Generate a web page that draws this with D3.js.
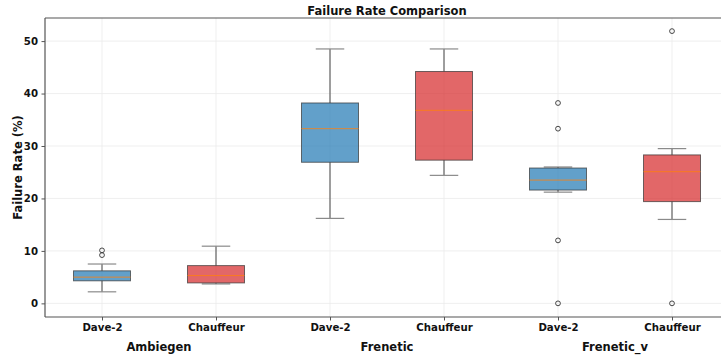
<!DOCTYPE html>
<html>
<head>
<meta charset="utf-8">
<script src="https://cdn.jsdelivr.net/npm/d3@7"></script>
<style>
  body { margin: 0; background: #fff; }
  svg { display: block; font-family: "DejaVu Sans", sans-serif; }
</style>
</head>
<body>
<svg width="721" height="356"></svg>
<script>
// boxes: [whiskerLow, q1, median, q3, whiskerHigh]
var groups = ["Ambiegen", "Frenetic", "Frenetic_v"];
var models = ["Dave-2", "Chauffeur"];
var boxStats = [
  [2.2, 4.3, 5.0, 6.2, 7.5],
  [3.7, 3.9, 5.3, 7.2, 10.9],
  [16.2, 26.9, 33.3, 38.2, 48.5],
  [24.4, 27.3, 36.8, 44.2, 48.5],
  [21.2, 21.6, 23.5, 25.8, 26.0],
  [16.0, 19.4, 25.1, 28.3, 29.5]
];
var outliers = [
  [9.2, 10.1],
  [],
  [],
  [],
  [0, 12.0, 33.3, 38.2],
  [0, 51.9]
];
var yTicks = [0, 10, 20, 30, 40, 50];
var colors = ["#1f77b4", "#d62728"];

var svg = d3.select("svg"),
    margin = {top: 18, left: 45},
    plotW = 684, plotH = 299;

var g = svg.append("g").attr("transform", "translate(" + margin.left + "," + margin.top + ")");

var x = d3.scaleLinear().domain([0.5, 6.5]).range([0, plotW]);
var y = d3.scaleLinear().domain([-2.6, 54.4]).range([plotH, 0]);

var data = boxStats.map(function(s, i) {
  return {pos: i + 1, stats: s, out: outliers[i], color: colors[i % 2], label: models[i % 2]};
});

// grid
g.append("g").selectAll("line").data(yTicks).enter().append("line")
  .attr("x1", 0).attr("x2", plotW + 20)
  .attr("y1", function(d) { return y(d); }).attr("y2", function(d) { return y(d); })
  .attr("stroke", "#ebebeb").attr("stroke-width", 0.8);
g.append("g").selectAll("line").data(data).enter().append("line")
  .attr("x1", function(d) { return x(d.pos); }).attr("x2", function(d) { return x(d.pos); })
  .attr("y1", 0).attr("y2", plotH)
  .attr("stroke", "#ebebeb").attr("stroke-width", 0.8);

var bw = x(1.25) - x(0.75);

var box = g.append("g").selectAll("g").data(data).enter().append("g");

// whiskers
box.append("line")
  .attr("x1", function(d) { return x(d.pos); }).attr("x2", function(d) { return x(d.pos); })
  .attr("y1", function(d) { return y(d.stats[0]); }).attr("y2", function(d) { return y(d.stats[1]); })
  .attr("stroke", "#444").attr("stroke-width", 1);
box.append("line")
  .attr("x1", function(d) { return x(d.pos); }).attr("x2", function(d) { return x(d.pos); })
  .attr("y1", function(d) { return y(d.stats[3]); }).attr("y2", function(d) { return y(d.stats[4]); })
  .attr("stroke", "#444").attr("stroke-width", 1);
// caps
[0, 4].forEach(function(k) {
  box.append("line")
    .attr("x1", function(d) { return x(d.pos) - bw / 4; }).attr("x2", function(d) { return x(d.pos) + bw / 4; })
    .attr("y1", function(d) { return y(d.stats[k]); }).attr("y2", function(d) { return y(d.stats[k]); })
    .attr("stroke", "#8a8a8a").attr("stroke-width", 1.2);
});

box.append("rect")
  .attr("x", function(d) { return x(d.pos) - bw / 2; })
  .attr("width", bw)
  .attr("y", function(d) { return y(d.stats[3]); })
  .attr("height", function(d) { return y(d.stats[1]) - y(d.stats[3]); })
  .attr("fill", function(d) { return d.color; })
  .attr("fill-opacity", 0.7)
  .attr("stroke", "#333").attr("stroke-opacity", 0.7).attr("stroke-width", 1);

box.append("line")
  .attr("x1", function(d) { return x(d.pos) - bw / 2; }).attr("x2", function(d) { return x(d.pos) + bw / 2; })
  .attr("y1", function(d) { return y(d.stats[2]); }).attr("y2", function(d) { return y(d.stats[2]); })
  .attr("stroke", "#ff7f0e").attr("stroke-opacity", 0.8).attr("stroke-width", 1);

box.selectAll("circle").data(function(d) { return d.out.map(function(v) { return {pos: d.pos, v: v}; }); })
  .enter().append("circle")
  .attr("cx", function(d) { return x(d.pos); })
  .attr("cy", function(d) { return y(d.v); })
  .attr("r", 2.4)
  .attr("fill", "none").attr("stroke", "#333").attr("stroke-width", 0.9);

// axes
var yAxis = g.append("g")
  .call(d3.axisLeft(y).tickValues(yTicks).tickSize(3.5).tickPadding(3.5));
var xAxis = g.append("g").attr("transform", "translate(0," + plotH + ")")
  .call(d3.axisBottom(x).tickValues(data.map(function(d) { return d.pos; }))
    .tickFormat(function(d, i) { return data[i].label; }).tickSize(3.5).tickPadding(3.5));
[yAxis, xAxis].forEach(function(a) {
  a.select(".domain").remove();
  a.selectAll("line").attr("stroke", "#555");
  a.selectAll("text").attr("font-size", 10.2).attr("font-weight", "bold")
    .attr("font-family", "DejaVu Sans").attr("fill", "#111");
});

// spines
g.append("line").attr("x1", 0).attr("x2", 0).attr("y1", 0).attr("y2", plotH).attr("stroke", "#555").attr("stroke-width", 1.2);
g.append("line").attr("x1", 0).attr("x2", plotW).attr("y1", plotH).attr("y2", plotH).attr("stroke", "#555").attr("stroke-width", 1.2);
g.append("line").attr("x1", 0).attr("x2", plotW).attr("y1", 0).attr("y2", 0).attr("stroke", "#555").attr("stroke-width", 1.2);

// group labels
g.append("g").selectAll("text").data(groups).enter().append("text")
  .attr("x", function(d, i) { return x(2 * i + 1.5); })
  .attr("y", plotH + 34)
  .attr("text-anchor", "middle")
  .attr("font-size", 11.5).attr("font-weight", "bold").attr("fill", "#111")
  .text(function(d) { return d; });

svg.append("text")
  .attr("x", margin.left + x(3.5)).attr("y", 14.5)
  .attr("text-anchor", "middle")
  .attr("font-size", 11.5).attr("font-weight", "bold").attr("fill", "#111")
  .text("Failure Rate Comparison");

svg.append("text")
  .attr("transform", "translate(22," + (margin.top + plotH / 2) + ") rotate(-90)")
  .attr("text-anchor", "middle")
  .attr("font-size", 11.5).attr("font-weight", "bold").attr("fill", "#111")
  .text("Failure Rate (%)");
</script>
</body>
</html>
